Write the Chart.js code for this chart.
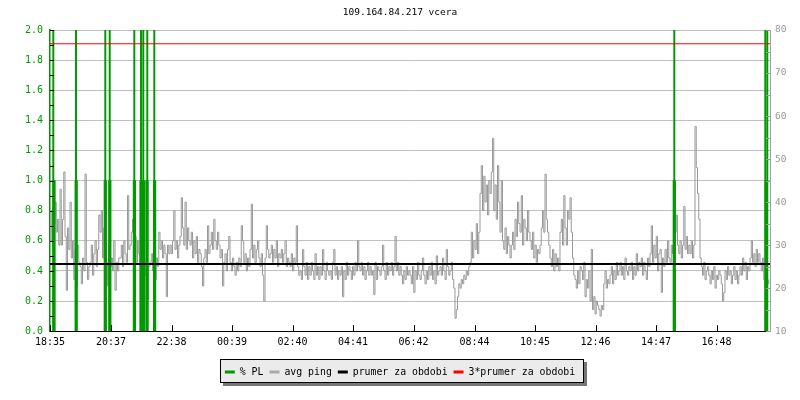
<!DOCTYPE html>
<html><head><meta charset="utf-8">
<script src="https://cdn.jsdelivr.net/npm/chart.js@4"></script>
<style>html,body{margin:0;padding:0;background:#fff}</style>
</head><body>
<canvas id="c" width="800" height="400"></canvas>
<script>
const titleText = '109.164.84.217 vcera';
const tickLabels = ['18:35','20:37','22:38','00:39','02:40','04:41','06:42','08:44','10:45','12:46','14:47','16:48'];
const tickMinutes = [0,122,243,364,485,606,727,849,970,1091,1212,1333];
const periodMinutes = 1440;
const stepMinutes = 2.5;
// avg ping [ms], one value per 2.5 minutes
const pingValues = [
 31,38,29,35,40,33,36,30, 43,30,36,47,32,19.5,34,29, 40,27,31,22,29,20.5,30,26,
 25,21,27,24,46.5,26,22,25, 26,30,23,28,31,25,29,37, 33,38,27,34,29,26,20.5,30,
 25,27,24,31,19.5,26,24,27, 27,30,25,31,28,26,41.5,29, 30,33,36,27,32,26,31,28,
 25,27,24,26,23,27,17.5,25, 26,28,24,29,22,27,25,33, 29,31,27,30,28,18,30,28,
 30,28,31,38,29,31,27,30, 32,41,34,30,40,29,34,31, 30,33,27,31,28,32,26,29,
 28,25,20.5,27,29,26,34.5,28, 30,33,29,36,31,29,33,30, 27,29,20.5,26,28,24,29,32,
 26,24,27,25,23,26,24,27, 25,34.5,31,26,28,24,27,25, 29,39.5,27,30,26,29,31,27,
 25,28,23,17,27,34.5,29,27, 28,30,26,29,27,31,25,28, 27,29,26,28,31,25,27,26,
 25,28,24,27,26,34.5,25,23, 24,22,29,25,23,26,22,25, 23,26,24,22,28,23,25,22,
 25,23,29,24,22,26,24,23, 24,22,26,29,23,25,22,24, 23,25,18,24,22,26,23,25,
 24,22,25,23,26,24,31,25, 24,26,23,25,22,24,26,23, 25,23,24,18.5,26,22,25,24,
 23,25,30,24,22,26,23,25, 24,26,23,25,32,24,26,23, 25,23,21,24,22,25,23,24,
 23,21,25,19,24,22,26,23, 22,24,27,23,21,24,22,25, 23,26,22,24,21,27.5,23,24,
 25,23,27,24,22,29,25,23, 24,26,22,20,13,15,18,21, 20,22,21,23,22,24,23,25,
 26,33,27,31,29,35,28,33, 42,48.5,38,46,40,44,37,45, 42,47,54.8,38,44,36,48.5,40,
 33,45,31,29,34,28,32,30, 27,30,33,29,36,32,40,35, 33,41.5,30,36,34,31,38,33,
 31,29,33,27,30,26,29,28, 30,34,38,33,46.5,36,33,30, 27,25,29,24,28,25,27,24,
 33,36,30,41.5,34,30,38,36, 41,33,27,23,22,20,24,21, 25,24,22,26,18,22,20,24,
 17,29,15,18,14,17,16,15, 13.5,16,15,21,24,20,22,21, 23,25,21,24,22,26,23,24,
 26,23,25,22,27,24,23,25, 24,26,22,25,23,28,24,26, 25,27,23,26,24,22,27,25,
 28,34.5,26,30,27,32,24,28, 29,19,27,25,29,26,31,27, 26,30,28,25,33,37,30,28,
 31,27,30,39,29,32,28,30, 28,31,27,30,57.6,48,42,36, 27,25,23,26,22,24,25,23,
 21,24,22,25,20,23,22,24, 23,21,17,19,24,22,25,23, 24,21,23,25,22,24,21,23,
 25,23,27,24,26,22,25,24, 27,31,26,28,25,29,26,28, 26,24,27,22,20,23,21,22
];
// packet loss [%]
const plMinutes = [8, 52.4, 110.6, 119.6, 168.8, 182, 187, 194, 209.2, 1248.6, 1432.6];
const plValues  = [1, 1, 1, 1, 1, 1, 1, 1, 1, 1, 1];
const plPeakMinutes = [6.6, 52, 110.6, 119.4, 168.6, 182, 186.6, 194.6, 208.6, 1248.6, 1430.6, 1434.6];
const plPeakValues  = [4, 4, 4, 4, 4, 4, 4, 4, 4, 4, 4, 4];
const prumer = 25.6;
const prumer3 = 76.8;

const GREEN = '#009900';
Chart.defaults.font.family = "'DejaVu Sans Mono', monospace";

const decor = {
  id: 'decor',
  beforeDraw(chart) {
    const ctx = chart.ctx;
    const hb = chart.legend && chart.legend.legendHitBoxes;
    if (!hb || !hb.length) return;
    const first = hb[0], last = hb[hb.length - 1];
    const x0 = Math.round(first.left - 5), x1 = Math.round(last.left + last.width + 9);
    const cy = first.top + first.height / 2;
    const y0 = Math.round(cy - 13), y1 = Math.round(cy + 11);
    ctx.save();
    ctx.fillStyle = '#777';
    ctx.fillRect(x0 + 3, y0 + 3, x1 - x0, y1 - y0);
    ctx.fillStyle = '#ebebeb';
    ctx.fillRect(x0, y0, x1 - x0, y1 - y0);
    ctx.strokeStyle = '#000';
    ctx.lineWidth = 1;
    ctx.strokeRect(x0 + 0.5, y0 + 0.5, x1 - x0 - 1, y1 - y0 - 1);
    ctx.restore();
  },
  afterDraw(chart) {
    const ctx = chart.ctx, a = chart.chartArea;
    const xs = chart.scales.x, ys = chart.scales.y, ys1 = chart.scales.y1;
    ctx.save();
    ctx.lineWidth = 1;
    ctx.strokeStyle = '#000';
    ctx.beginPath();
    tickMinutes.forEach(m => {
      const px = Math.round(xs.getPixelForValue(m)) + 0.5;
      ctx.moveTo(px, a.bottom); ctx.lineTo(px, a.bottom - 6);
    });
    for (let k = 0; k <= 20; k++) {
      const py = Math.round(ys.getPixelForValue(k / 10)) + 0.5;
      ctx.moveTo(a.left, py); ctx.lineTo(a.left + 4, py);
    }
    ctx.stroke();
    ctx.strokeStyle = '#999';
    ctx.beginPath();
    for (let v = 10; v <= 80; v += 5) {
      const py = Math.round(ys1.getPixelForValue(v)) + 0.5;
      ctx.moveTo(a.right, py); ctx.lineTo(a.right - 4, py);
    }
    ctx.stroke();
    ctx.restore();
  }
};

new Chart(document.getElementById('c'), {
  type: 'line',
  data: {
    datasets: [
      { type: 'bar', label: '% PL', legendColor: GREEN,
        data: plMinutes.map((m, i) => ({x: m, y: plValues[i]})),
        backgroundColor: GREEN, borderWidth: 0, barThickness: 2.6, grouped: false,
        yAxisID: 'y', order: 2, clip: 0 },
      { type: 'bar', label: 'pl-peak', legendColor: GREEN,
        data: plPeakMinutes.map((m, i) => ({x: m, y: plPeakValues[i]})),
        backgroundColor: GREEN, borderWidth: 0, barThickness: 1.3, grouped: false,
        yAxisID: 'y', order: 3, clip: 0 },
      { label: 'avg ping', legendColor: '#aaaaaa',
        data: pingValues.map((v, i) => ({x: i * stepMinutes, y: v})),
        borderColor: '#999999', borderWidth: 1, pointRadius: 0, stepped: true,
        yAxisID: 'y1', order: 5 },
      { label: 'prumer za obdobi', legendColor: '#000000',
        data: [{x: 0, y: prumer}, {x: periodMinutes, y: prumer}],
        borderColor: '#000000', borderWidth: 2, pointRadius: 0,
        yAxisID: 'y1', order: 1 },
      { label: '3*prumer za obdobi', legendColor: '#ff0000',
        data: [{x: 0, y: prumer3}, {x: periodMinutes, y: prumer3}],
        borderColor: '#ff0000', borderWidth: 1.2, pointRadius: 0,
        yAxisID: 'y1', order: 0 }
    ]
  },
  options: {
    responsive: false,
    animation: false,
    devicePixelRatio: 1,
    layout: { padding: { top: 0, left: 0, right: 0, bottom: 13 } },
    plugins: {
      tooltip: { enabled: false },
      title: { display: true, text: titleText, color: '#000',
        font: { size: 9.5, weight: 'normal' }, padding: { top: 7, bottom: 11.6 } },
      legend: {
        position: 'bottom',
        labels: {
          font: { size: 9.85 }, color: '#000', boxWidth: 10, boxHeight: 3, padding: 6,
          generateLabels(chart) {
            const items = Chart.defaults.plugins.legend.labels.generateLabels(chart);
            return items.filter(it => it.datasetIndex !== 1).map(it => {
              const col = chart.data.datasets[it.datasetIndex].legendColor;
              it.fillStyle = col; it.strokeStyle = col; it.lineWidth = 0;
              return it;
            }).sort((p, q) => p.datasetIndex - q.datasetIndex);
          }
        }
      }
    },
    scales: {
      x: {
        type: 'linear', min: 0, max: periodMinutes, offset: false,
        afterFit(s) { s.height = 30; },
        afterBuildTicks(s) { s.ticks = tickMinutes.map(v => ({value: v})); },
        grid: { display: false, drawTicks: false },
        border: { display: true, color: '#000', width: 1 },
        ticks: { autoSkip: false, maxRotation: 0, padding: 5, color: '#000',
          font: { size: 10 },
          callback(v, i) { return tickLabels[i]; } }
      },
      y: {
        position: 'left', min: 0, max: 2,
        afterFit(s) { s.width = 50; },
        grid: { color: '#c0c0c0', lineWidth: 1, drawTicks: false },
        border: { display: true, color: GREEN, width: 1.5 },
        ticks: { stepSize: 0.2, padding: 7, color: GREEN, font: { size: 10 },
          callback(v) { return Number(v).toFixed(1); } }
      },
      y1: {
        position: 'right', min: 10, max: 80,
        afterFit(s) { s.width = 30; },
        grid: { display: false, drawTicks: false },
        border: { display: true, color: '#a0a0a0', width: 1 },
        ticks: { stepSize: 10, padding: 5, color: '#999', font: { size: 9.5 } }
      }
    }
  },
  plugins: [decor]
});
</script>
</body></html>
